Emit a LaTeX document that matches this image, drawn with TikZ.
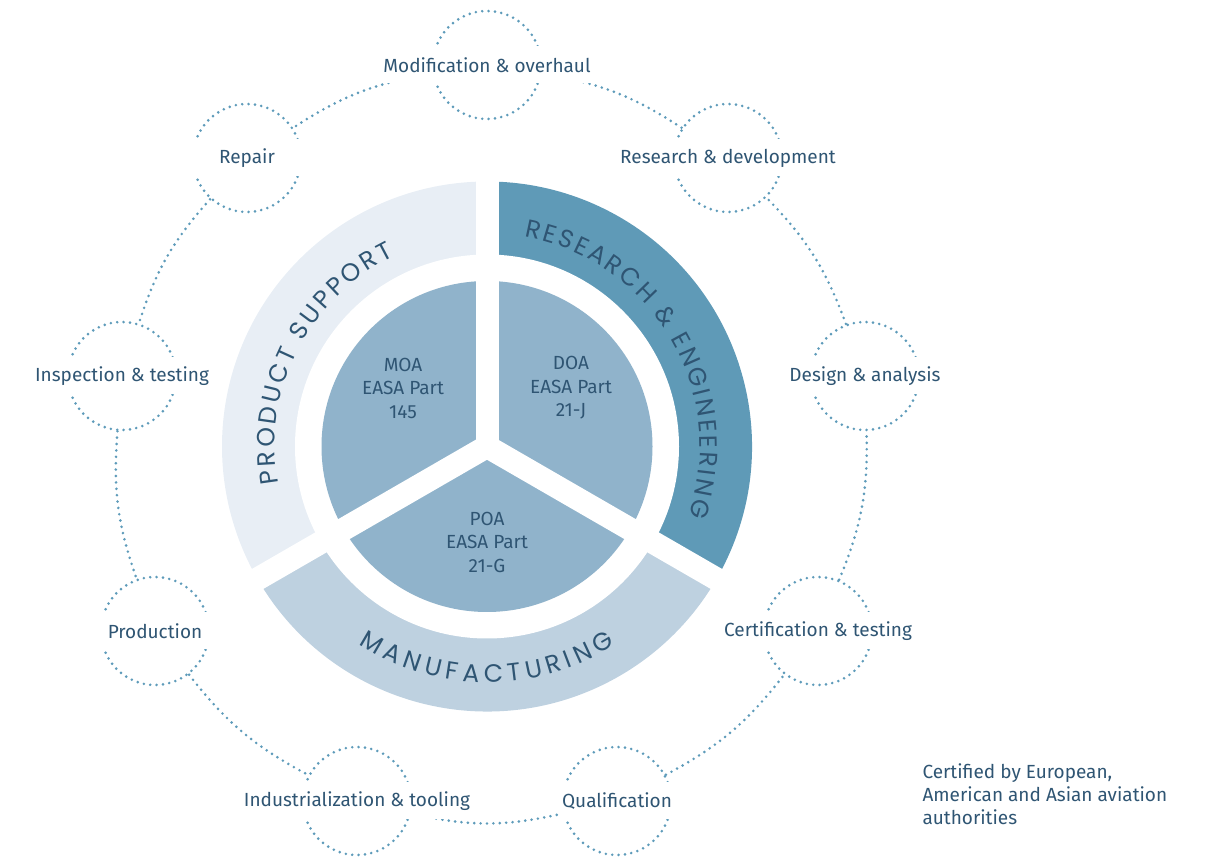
\documentclass[tikz,border=0pt]{standalone}
\usepackage{fontspec}
\setmainfont{Fira Sans}
\newfontfamily\ringfont{Poppins}
\usetikzlibrary{decorations.text}

\definecolor{inkblue}{HTML}{2F5573}
\definecolor{dotblue}{HTML}{5E9BBA}
\definecolor{pieblue}{HTML}{90B3CB}
\definecolor{supportfill}{HTML}{E8EEF5}
\definecolor{researchfill}{HTML}{5F9AB7}
\definecolor{makefill}{HTML}{BED1E0}

\tikzset{
  dotline/.style={draw=dotblue, line width=2.9pt, line cap=round, dash pattern=on 0pt off 6.4pt},
  hub/.style={circle, minimum size=108pt, inner sep=0pt, dotline},
  link/.style={dotline},
  tag/.style={fill=white, text=inkblue, minimum width=116pt, minimum height=37pt, inner xsep=2pt, font=\fontsize{19}{22}\selectfont},
  approval/.style={text=inkblue, align=center, font=\fontsize{19}{23.5}\selectfont},
  note/.style={text=inkblue, align=left, font=\fontsize{19}{23}\selectfont},
  ringtext/.style={decorate, decoration={text along path, text align={fit to path}, text color=inkblue}},
}

\begin{document}
\begin{tikzpicture}[x=1pt, y=1pt]
    \useasboundingbox (0,0) rectangle (1205,857);

    % centre of the wheel and its radii
    \coordinate (C) at (487,410.5);
    \def\rPie{165.5}
    \def\rIn{192}
    \def\rOut{265}

    % 1. Outer ring: three sectors, then hollow it out
    \fill[supportfill] (C) -- ++(90:\rOut) arc[start angle=90, end angle=210, radius=\rOut] -- cycle;
    \fill[makefill] (C) -- ++(210:\rOut) arc[start angle=210, end angle=330, radius=\rOut] -- cycle;
    \fill[researchfill] (C) -- ++(330:\rOut) arc[start angle=330, end angle=450, radius=\rOut] -- cycle;
    \fill[white] (C) circle (\rIn);

    % 2. Inner pie
    \fill[pieblue] (C) circle (\rPie);

    % 3. White spokes split pie and ring in three
    \draw[white, line width=23pt] (C) -- ++(90:272);
    \draw[white, line width=23pt] (C) -- ++(210:272);
    \draw[white, line width=23pt] (C) -- ++(330:272);

    % 4. Curved ring titles
    \path[ringtext, shift={(C)}, decoration={text={|\ringfont\fontsize{25}{25}\selectfont|PRODUCT SUPPORT}}]
        (190:212) arc[start angle=190, end angle=116, radius=212];
    \path[ringtext, shift={(C)}, decoration={text={|\ringfont\fontsize{25}{25}\selectfont|RESEARCH {\&} ENGINEERING}}]
        (80:213) arc[start angle=80, end angle=-19, radius=213];
    \path[ringtext, shift={(C)}, decoration={text={|\ringfont\fontsize{25}{25}\selectfont|MANUFACTURING}}]
        (237:236) arc[start angle=237, end angle=303, radius=236];

    % 5. Approvals in the pie
    \node[approval] (moa) at (403,469) {MOA\\EASA Part\\145};
    \node[approval] (doa) at (571,469) {DOA\\EASA Part\\21-J};
    \node[approval] (poa) at (487,315) {POA\\EASA Part\\21-G};

    % 6. Dotted activity circles round the wheel
    \node[hub] (mod) at (487,792) {};
    \node[hub] (rep) at (247,699) {};
    \node[hub] (ins) at (122,481) {};
    \node[hub] (pro) at (155,226) {};
    \node[hub] (ind) at (357,56) {};
    \node[hub] (qua) at (617,56) {};
    \node[hub] (cer) at (818,226) {};
    \node[hub] (des) at (865,481) {};
    \node[hub] (res) at (728,699) {};

    % 7. Dotted links, bent so they follow one big circle
    \draw[link] (mod) to[bend right=12] (rep);
    \draw[link] (rep) to[bend right=12] (ins);
    \draw[link] (ins) to[bend right=12] (pro);
    \draw[link] (pro) to[bend right=12] (ind);
    \draw[link] (ind) to[bend right=13] (qua);
    \draw[link] (qua) to[bend right=12] (cer);
    \draw[link] (cer) to[bend right=12] (des);
    \draw[link] (des) to[bend right=12] (res);
    \draw[link] (res) to[bend right=12] (mod);

    % 8. Labels on white bands that cut the circles open
    \node[tag] (modtag) at (mod) {Modification \& overhaul};
    \node[tag] (reptag) at (rep) {Repair};
    \node[tag] (instag) at (ins) {Inspection \& testing};
    \node[tag] (protag) at (pro) {Production};
    \node[tag] (indtag) at (ind) {Industrialization \& tooling};
    \node[tag] (quatag) at (qua) {Qualification};
    \node[tag] (certag) at (cer) {Certification \& testing};
    \node[tag] (destag) at (des) {Design \& analysis};
    \node[tag] (restag) at (res) {Research \& development};

    % 9. Side note
    \node[note, anchor=west] (cert) at (919,63) {Certified by European,\\American and Asian aviation\\authorities};

\end{tikzpicture}
\end{document}
